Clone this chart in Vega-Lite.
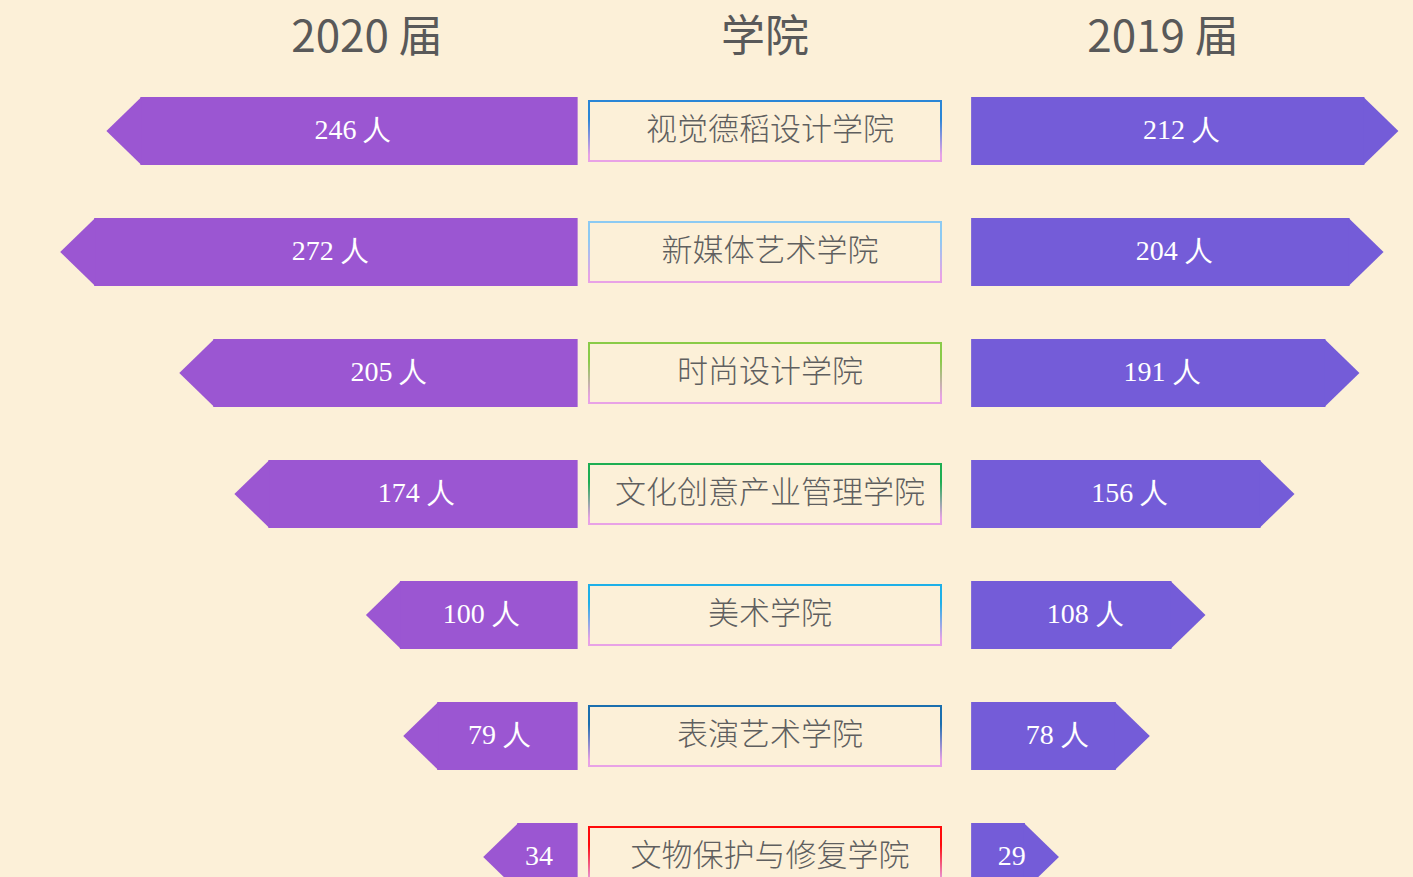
{
  "$schema": "https://vega.github.io/schema/vega-lite/v6.json",
  "width": 1413,
  "height": 877,
  "autosize": "none",
  "padding": 0,
  "background": "#fcf0d8",
  "config": {"view": {"stroke": null}},
  "data": {
    "values": [
      {"school": "视觉德稻设计学院", "y2020": 246, "y2019": 212, "l2020": "246 人", "l2019": "212 人"},
      {"school": "新媒体艺术学院", "y2020": 272, "y2019": 204, "l2020": "272 人", "l2019": "204 人"},
      {"school": "时尚设计学院", "y2020": 205, "y2019": 191, "l2020": "205 人", "l2019": "191 人"},
      {"school": "文化创意产业管理学院", "y2020": 174, "y2019": 156, "l2020": "174 人", "l2019": "156 人"},
      {"school": "美术学院", "y2020": 100, "y2019": 108, "l2020": "100 人", "l2019": "108 人"},
      {"school": "表演艺术学院", "y2020": 79, "y2019": 78, "l2020": "79 人", "l2019": "78 人"},
      {"school": "文物保护与修复学院", "y2020": 34, "y2019": 29, "l2020": "34", "l2019": "29"}
    ]
  },
  "encoding": {
    "y": {
      "field": "school",
      "type": "nominal",
      "sort": null,
      "axis": null,
      "scale": {
        "type": "band",
        "domain": ["视觉德稻设计学院", "新媒体艺术学院", "时尚设计学院", "文化创意产业管理学院", "美术学院", "表演艺术学院", "文物保护与修复学院"],
        "range": [70.5, 917.5],
        "paddingInner": 0,
        "paddingOuter": 0
      }
    }
  },
  "layer": [
    {
      "layer": [
        {
          "mark": {"type": "bar", "size": 68, "color": "#9b56d2"},
          "encoding": {
            "x": {"field": "y2020", "type": "quantitative", "axis": null,
                  "scale": {"domain": [-470, 325], "reverse": true, "nice": false}}
          }
        },
        {
          "mark": {"type": "point", "shape": "M0.03,-1L-1,0L0.03,1Z", "size": 4624, "filled": true, "color": "#9b56d2", "opacity": 1, "strokeWidth": 0},
          "encoding": {"x": {"field": "y2020", "type": "quantitative"}}
        }
      ]
    },
    {
      "mark": {"type": "text", "color": "#ffffff", "font": "Liberation Serif", "fontSize": 28, "baseline": "middle", "align": "center"},
      "encoding": {
        "x": {"field": "y2020", "type": "quantitative", "axis": null,
              "scale": {"domain": [-961.3, 648], "reverse": true, "nice": false}},
        "text": {"field": "l2020"}
      }
    },
    {
      "layer": [
        {
          "mark": {"type": "rect", "width": 352, "height": 60, "fill": "transparent", "strokeWidth": 2},
          "encoding": {
            "x": {"datum": "学院", "type": "nominal",
                  "scale": {"domain": ["2020 届", "学院", "2019 届"], "range": [168, 1362], "paddingInner": 0, "paddingOuter": 0},
                  "axis": {"orient": "top", "offset": -51, "domain": false, "ticks": false, "tickSize": 0, "labelPadding": 0, "grid": false,
                           "labelFont": "Noto Sans CJK SC", "labelFontSize": 44, "labelColor": "#595959", "labelBaseline": "alphabetic",
                           "labelAngle": 0, "labelOverlap": false, "labelLimit": 0, "labelFlush": false, "title": null}},
            "stroke": {"field": "school", "type": "nominal", "legend": null,
                       "scale": {"domain": ["视觉德稻设计学院", "新媒体艺术学院", "时尚设计学院", "文化创意产业管理学院", "美术学院", "表演艺术学院", "文物保护与修复学院"],
                                 "range": ["#2a86d6", "#8ccaf2", "#8acb48", "#1eae52", "#1eb0e8", "#1b6fae", "#ff0a0a"]}}
          }
        },
        {
          "mark": {"type": "rect", "width": 352, "height": 60, "fill": "transparent", "strokeWidth": 2,
                   "stroke": {"gradient": "linear", "x1": 0, "y1": 0, "x2": 0, "y2": 1,
                              "stops": [{"offset": 0, "color": "rgba(232,162,230,0)"}, {"offset": 0.3, "color": "rgba(232,162,230,0)"},
                                        {"offset": 0.9, "color": "rgba(232,162,230,1)"}, {"offset": 1, "color": "rgba(232,162,230,1)"}]}},
          "encoding": {"x": {"datum": "学院", "type": "nominal"}}
        },
        {
          "mark": {"type": "text", "font": "Noto Sans CJK SC", "fontSize": 31, "fontWeight": 300, "color": "#5f5f5f", "baseline": "middle", "align": "center", "dx": 5},
          "encoding": {"x": {"datum": "学院", "type": "nominal"}, "text": {"field": "school"}}
        }
      ]
    },
    {
      "layer": [
        {
          "mark": {"type": "bar", "size": 68, "color": "#745cd8"},
          "encoding": {
            "x": {"field": "y2019", "type": "quantitative", "axis": null,
                  "scale": {"domain": [-523.5, 238.2], "nice": false}}
          }
        },
        {
          "mark": {"type": "point", "shape": "M-0.03,-1L1,0L-0.03,1Z", "size": 4624, "filled": true, "color": "#745cd8", "opacity": 1, "strokeWidth": 0},
          "encoding": {"x": {"field": "y2019", "type": "quantitative"}}
        }
      ]
    },
    {
      "mark": {"type": "text", "color": "#ffffff", "font": "Liberation Serif", "fontSize": 28, "baseline": "middle", "align": "center"},
      "encoding": {
        "x": {"field": "y2019", "type": "quantitative", "axis": null,
              "scale": {"domain": [-1062, 461.5], "nice": false}},
        "text": {"field": "l2019"}
      }
    }
  ],
  "resolve": {"scale": {"x": "independent"}}
}
